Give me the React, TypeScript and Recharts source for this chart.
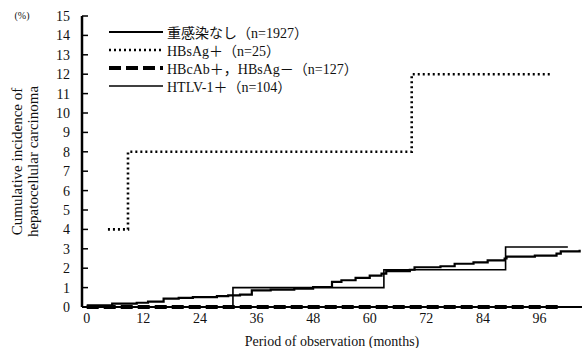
import React from 'react';
import { LineChart, Line, XAxis, YAxis, Legend } from 'recharts';

// months of observation vs cumulative incidence (%)
const noCoinfection = [
  { m: 0, v: 0.08 }, { m: 5.4, v: 0.17 }, { m: 10.6, v: 0.22 }, { m: 13, v: 0.28 },
  { m: 16.3, v: 0.43 }, { m: 19.5, v: 0.47 }, { m: 22.5, v: 0.51 }, { m: 27.6, v: 0.56 },
  { m: 30, v: 0.6 }, { m: 32.5, v: 0.64 }, { m: 35, v: 0.86 }, { m: 39, v: 0.9 },
  { m: 44, v: 0.95 }, { m: 48, v: 1.03 }, { m: 52, v: 1.29 }, { m: 54, v: 1.38 },
  { m: 57, v: 1.5 }, { m: 60, v: 1.62 }, { m: 62.5, v: 1.72 }, { m: 63.5, v: 1.85 },
  { m: 68.5, v: 1.92 }, { m: 69.5, v: 2.05 }, { m: 75, v: 2.1 }, { m: 78, v: 2.23 },
  { m: 82, v: 2.3 }, { m: 85, v: 2.4 }, { m: 88.6, v: 2.5 }, { m: 89, v: 2.6 },
  { m: 95, v: 2.65 }, { m: 99.6, v: 2.75 }, { m: 100.5, v: 2.87 }, { m: 104.5, v: 2.95 },
];
const hbsag = [
  { m: 4.5, v: 4 }, { m: 8.75, v: 8 }, { m: 68.9, v: 12 }, { m: 98.6, v: 12 },
];
const hbcab = [
  { m: 0, v: 0 }, { m: 100, v: 0 },
];
const htlv = [
  { m: 0, v: 0 }, { m: 31, v: 1 }, { m: 63, v: 1.92 }, { m: 88.8, v: 3.09 }, { m: 102, v: 3.09 },
];

const yTicks = [0, 1, 2, 3, 4, 5, 6, 7, 8, 9, 10, 11, 12, 13, 14, 15];
const xTicks = [0, 12, 24, 36, 48, 60, 72, 84, 96];

const legendNames = [
  '重感染なし（n=1927）',
  'HBsAg＋（n=25）',
  'HBcAb＋，HBsAg－（n=127）',
  'HTLV-1＋（n=104）',
];

const FONT = '"Liberation Serif", "DejaVu Serif", "Noto Sans CJK JP", serif';

const series = [
  { key: 'none', data: noCoinfection, width: 2.2, dash: undefined as string | undefined },
  { key: 'hbs', data: hbsag, width: 2.6, dash: '2 3' },
  { key: 'hbc', data: hbcab, width: 4, dash: '12 5' },
  { key: 'htlv', data: htlv, width: 1.6, dash: undefined as string | undefined },
];

const YTick = (props: any) => {
  const { x, y, payload } = props;
  return (
    <g>
      <line x1={x} y1={y} x2={x + 6} y2={y} stroke="#000" strokeWidth={1.5} />
      <text x={x - 12} y={y} dy={5} textAnchor="end" fontSize={14} fontFamily={FONT} fill="#111">
        {payload.value}
      </text>
    </g>
  );
};

const YLabel = (props: any) => {
  const vb = props.viewBox || { x: 0, y: 16, width: 82, height: 291 };
  const cy = vb.y + vb.height / 2;
  return (
    <g fontFamily={FONT} fill="#111">
      <text x={22} y={19} fontSize={10} textAnchor="middle">(%)</text>
      <text transform={`translate(${vb.x + 22}, ${cy}) rotate(-90)`} textAnchor="middle" fontSize={15}>
        Cumulative incidence of
      </text>
      <text transform={`translate(${vb.x + 38}, ${cy}) rotate(-90)`} textAnchor="middle" fontSize={15}>
        hepatocellular carcinoma
      </text>
    </g>
  );
};

const LegendBox = () => (
  <div style={{ fontFamily: FONT, fontSize: 14, color: '#111' }}>
    {legendNames.map((name, i) => (
      <div key={name} style={{ height: 18, display: 'flex', alignItems: 'center', whiteSpace: 'nowrap' }}>
        <svg width={56} height={10} style={{ marginRight: 3 }}>
          <line x1={1} y1={5} x2={55} y2={5} stroke="#000"
            strokeWidth={series[i].width} strokeDasharray={series[i].dash} />
        </svg>
        <span>{name}</span>
      </div>
    ))}
  </div>
);

export default function App() {
  return (
    <div style={{ position: 'absolute', left: 0, top: 0, background: '#fff' }}>
      <LineChart width={586} height={348} margin={{ top: 16, right: 4, left: 0, bottom: 0 }}>
        <XAxis
          type="number"
          dataKey="m"
          domain={[-1, 105]}
          ticks={xTicks}
          allowDataOverflow
          height={41}
          tickSize={0}
          tickMargin={6}
          axisLine={{ stroke: '#000', strokeWidth: 2 }}
          tick={{ fontSize: 14, fontFamily: FONT, fill: '#111' }}
          label={{ value: 'Period of observation (months)', position: 'insideBottom', offset: 2, fontSize: 14, fontFamily: FONT, fill: '#111' }}
        />
        <YAxis
          type="number"
          domain={[0, 15]}
          ticks={yTicks}
          interval={0}
          width={82}
          tickSize={0}
          tickMargin={0}
          tickLine={false}
          axisLine={{ stroke: '#000', strokeWidth: 2.5 }}
          tick={<YTick />}
          label={<YLabel />}
        />
        <Legend
          layout="vertical"
          align="center"
          verticalAlign="middle"
          content={<LegendBox />}
          wrapperStyle={{ left: 108, top: 23, width: 320 }}
        />
        {series.map((s) => (
          <Line
            key={s.key}
            data={s.data}
            dataKey="v"
            type="stepAfter"
            stroke="#000"
            strokeWidth={s.width}
            strokeDasharray={s.dash}
            dot={false}
            activeDot={false}
            isAnimationActive={false}
          />
        ))}
      </LineChart>
    </div>
  );
}
